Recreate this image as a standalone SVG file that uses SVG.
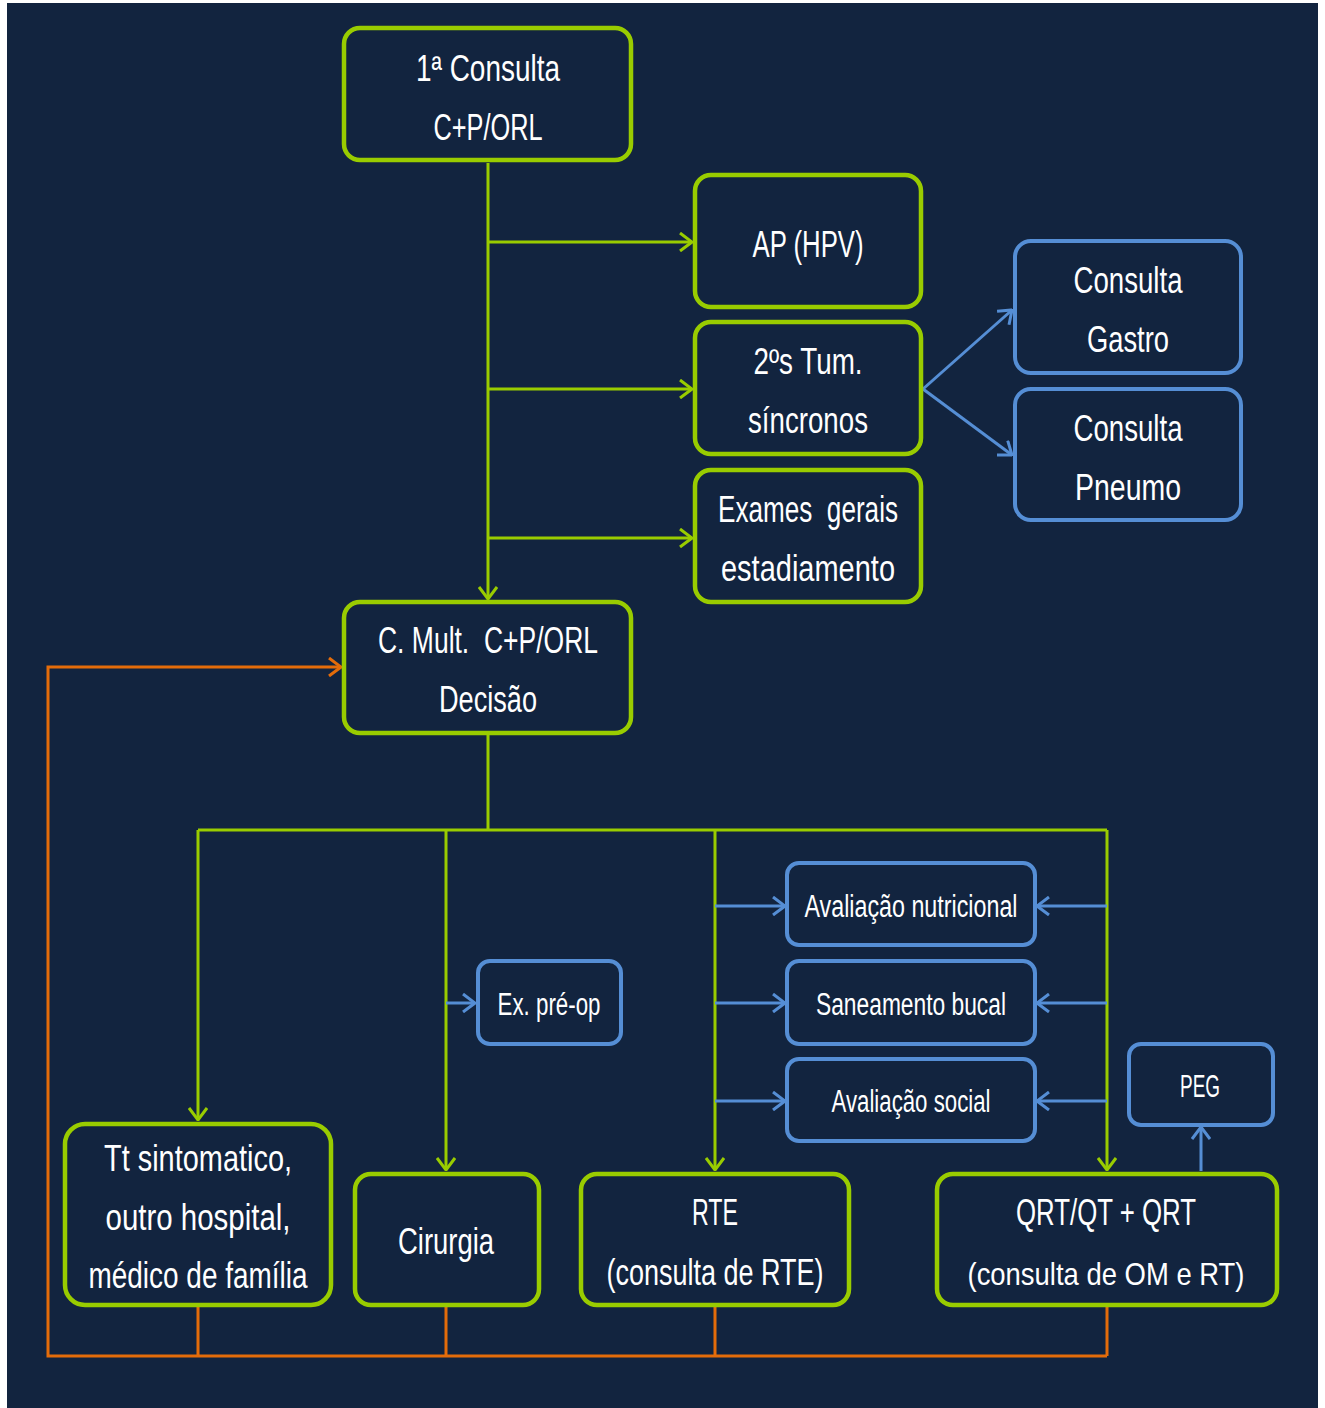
<svg xmlns="http://www.w3.org/2000/svg" width="1325" height="1408" viewBox="0 0 1325 1408">
<style>
.bg{fill:#12243f}
.g{fill:#12243f;stroke:#99cc00;stroke-width:4.5}
.b{fill:#12243f;stroke:#558ed5;stroke-width:4}
.t{font-family:"Liberation Sans",Arial,sans-serif;font-size:36px;fill:#ffffff;text-anchor:middle}
.s{font-family:"Liberation Sans",Arial,sans-serif;font-size:31px;fill:#ffffff;text-anchor:middle}
.cg{stroke:#99cc00;stroke-width:3;fill:none}
.cb{stroke:#558ed5;stroke-width:3;fill:none}
.co{stroke:#e46c0a;stroke-width:3;fill:none}
</style>
<defs>
<marker id="ag" viewBox="0 0 14 20" refX="13" refY="10" markerWidth="14" markerHeight="20" markerUnits="userSpaceOnUse" orient="auto"><path d="M1,1 L13,10 L1,19" fill="none" stroke="#99cc00" stroke-width="3"/></marker>
<marker id="ab" viewBox="0 0 14 20" refX="13" refY="10" markerWidth="14" markerHeight="20" markerUnits="userSpaceOnUse" orient="auto"><path d="M1,1 L13,10 L1,19" fill="none" stroke="#558ed5" stroke-width="3"/></marker>
<marker id="ao" viewBox="0 0 14 20" refX="13" refY="10" markerWidth="14" markerHeight="20" markerUnits="userSpaceOnUse" orient="auto"><path d="M1,1 L13,10 L1,19" fill="none" stroke="#e46c0a" stroke-width="3"/></marker>
</defs>
<rect x="0" y="0" width="1325" height="1408" fill="#ffffff"/>
<rect class="bg" x="7" y="3" width="1311" height="1405"/>

<g id="connectors">
<path class="cg" d="M488,163 V599" marker-end="url(#ag)"/>
<path class="cg" d="M488,242 H692" marker-end="url(#ag)"/>
<path class="cg" d="M488,389 H692" marker-end="url(#ag)"/>
<path class="cg" d="M488,538 H692" marker-end="url(#ag)"/>
<path class="cb" d="M923,389 L1012,310" marker-end="url(#ab)"/>
<path class="cb" d="M923,389 L1012,455" marker-end="url(#ab)"/>
<path class="cg" d="M488,735 V830"/>
<path class="cg" d="M198,830 H1107"/>
<path class="cg" d="M198,830 V1120" marker-end="url(#ag)"/>
<path class="cg" d="M446,830 V1170" marker-end="url(#ag)"/>
<path class="cg" d="M715,830 V1170" marker-end="url(#ag)"/>
<path class="cg" d="M1107,830 V1170" marker-end="url(#ag)"/>
<path class="cb" d="M446,1003 H475" marker-end="url(#ab)"/>
<path class="cb" d="M715,906 H785" marker-end="url(#ab)"/>
<path class="cb" d="M715,1003 H785" marker-end="url(#ab)"/>
<path class="cb" d="M715,1101 H785" marker-end="url(#ab)"/>
<path class="cb" d="M1107,906 H1037" marker-end="url(#ab)"/>
<path class="cb" d="M1107,1003 H1037" marker-end="url(#ab)"/>
<path class="cb" d="M1107,1101 H1037" marker-end="url(#ab)"/>
<path class="cb" d="M1201,1171 V1127" marker-end="url(#ab)"/>
<path class="co" d="M198,1307 V1356 M446,1307 V1356 M715,1307 V1356 M1107,1307 V1356"/>
<path class="co" d="M1107,1356 H48 V667 H341" marker-end="url(#ao)"/>
</g>

<g id="n1"><rect class="g" x="344" y="28" width="287" height="132" rx="16"/>
<text class="t" x="488" y="81" textLength="144" lengthAdjust="spacingAndGlyphs">1ª Consulta</text>
<text class="t" x="488" y="140" textLength="109" lengthAdjust="spacingAndGlyphs">C+P/ORL</text></g>

<g id="n2"><rect class="g" x="695" y="175" width="226" height="132" rx="16"/>
<text class="t" x="808" y="257" textLength="111" lengthAdjust="spacingAndGlyphs">AP (HPV)</text></g>

<g id="n3"><rect class="g" x="695" y="322" width="226" height="132" rx="16"/>
<text class="t" x="808" y="374" textLength="109" lengthAdjust="spacingAndGlyphs">2ºs Tum.</text>
<text class="t" x="808" y="433" textLength="120" lengthAdjust="spacingAndGlyphs">síncronos</text></g>

<g id="n4"><rect class="g" x="695" y="470" width="226" height="132" rx="16"/>
<text class="t" x="808" y="522" textLength="180" lengthAdjust="spacingAndGlyphs">Exames&#160; gerais</text>
<text class="t" x="808" y="581" textLength="174" lengthAdjust="spacingAndGlyphs">estadiamento</text></g>

<g id="n5"><rect class="b" x="1015" y="241" width="226" height="132" rx="16"/>
<text class="t" x="1128" y="293" textLength="109" lengthAdjust="spacingAndGlyphs">Consulta</text>
<text class="t" x="1128" y="352" textLength="82" lengthAdjust="spacingAndGlyphs">Gastro</text></g>

<g id="n6"><rect class="b" x="1015" y="389" width="226" height="131" rx="16"/>
<text class="t" x="1128" y="441" textLength="109" lengthAdjust="spacingAndGlyphs">Consulta</text>
<text class="t" x="1128" y="500" textLength="106" lengthAdjust="spacingAndGlyphs">Pneumo</text></g>

<g id="n7"><rect class="g" x="344" y="602" width="287" height="131" rx="16"/>
<text class="t" x="488" y="653" textLength="220" lengthAdjust="spacingAndGlyphs">C. Mult.&#160; C+P/ORL</text>
<text class="t" x="488" y="712" textLength="98" lengthAdjust="spacingAndGlyphs">Decisão</text></g>

<g id="n8"><rect class="b" x="787" y="863" width="248" height="82" rx="12"/>
<text class="s" x="911" y="917" textLength="213" lengthAdjust="spacingAndGlyphs">Avaliação nutricional</text></g>

<g id="n9"><rect class="b" x="787" y="961" width="248" height="83" rx="12"/>
<text class="s" x="911" y="1015" textLength="190" lengthAdjust="spacingAndGlyphs">Saneamento bucal</text></g>

<g id="n10"><rect class="b" x="787" y="1059" width="248" height="82" rx="12"/>
<text class="s" x="911" y="1112" textLength="159" lengthAdjust="spacingAndGlyphs">Avaliação social</text></g>

<g id="n11"><rect class="b" x="478" y="961" width="143" height="83" rx="12"/>
<text class="s" x="549" y="1015" textLength="103" lengthAdjust="spacingAndGlyphs">Ex. pré-op</text></g>

<g id="n12"><rect class="b" x="1129" y="1044" width="144" height="81" rx="12"/>
<text class="s" x="1200" y="1097" textLength="40" lengthAdjust="spacingAndGlyphs">PEG</text></g>

<g id="n13"><rect class="g" x="65" y="1124" width="266" height="181" rx="20"/>
<text class="t" x="198" y="1171" textLength="188" lengthAdjust="spacingAndGlyphs">Tt sintomatico,</text>
<text class="t" x="198" y="1230" textLength="185" lengthAdjust="spacingAndGlyphs">outro hospital,</text>
<text class="t" x="198" y="1288" textLength="219" lengthAdjust="spacingAndGlyphs">médico de família</text></g>

<g id="n14"><rect class="g" x="355" y="1174" width="184" height="131" rx="16"/>
<text class="t" x="446" y="1254" textLength="96" lengthAdjust="spacingAndGlyphs">Cirurgia</text></g>

<g id="n15"><rect class="g" x="581" y="1174" width="268" height="131" rx="16"/>
<text class="t" x="715" y="1225" textLength="46" lengthAdjust="spacingAndGlyphs">RTE</text>
<text class="t" x="715" y="1285" textLength="217" lengthAdjust="spacingAndGlyphs">(consulta de RTE)</text></g>

<g id="n16"><rect class="g" x="937" y="1174" width="340" height="131" rx="16"/>
<text class="t" x="1106" y="1225" textLength="180" lengthAdjust="spacingAndGlyphs">QRT/QT + QRT</text>
<text class="t" x="1106" y="1285" style="font-size:32px" textLength="277" lengthAdjust="spacingAndGlyphs">(consulta de OM e RT)</text></g>
</svg>
